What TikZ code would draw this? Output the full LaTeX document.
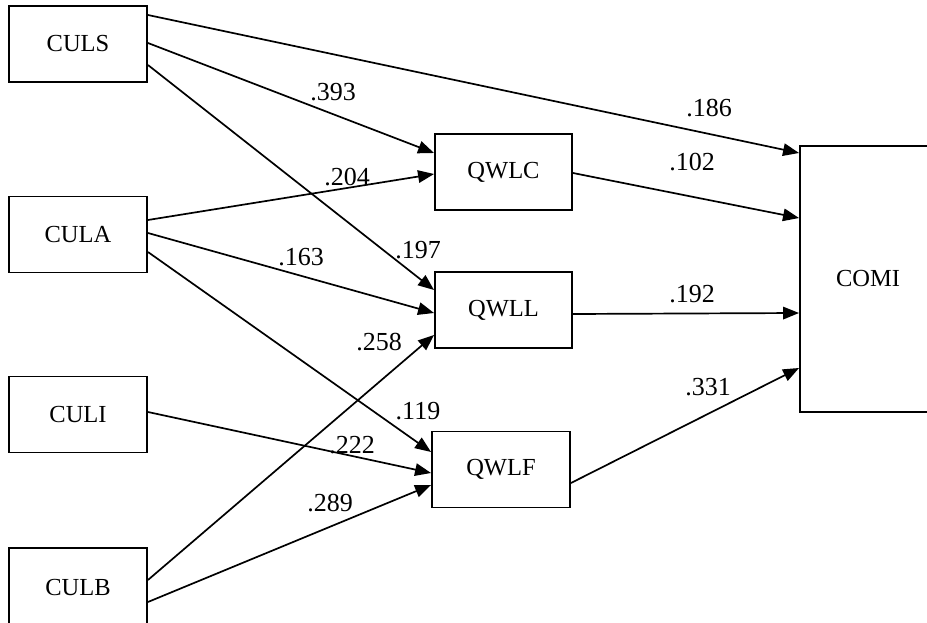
\documentclass[tikz,border=0pt]{standalone}
\usepackage{fontspec}
\setmainfont{Liberation Serif}
\usetikzlibrary{arrows.meta}
\begin{document}
\begin{tikzpicture}[x=1pt,y=-1pt,
  box/.style={draw, line width=1.9pt, minimum width=138pt, minimum height=76pt, inner sep=0pt, font=\fontsize{24.5}{24.5}\selectfont},
  conn/.style={line width=1.7pt, -{Triangle[length=16pt,width=12.5pt]}},
  lab/.style={inner sep=0pt, font=\fontsize{26}{26}\selectfont}]
\useasboundingbox (0,0) rectangle (927,623);
\node[box] (culs) at (78,44) {CULS};
\node[box] (cula) at (78,234.5) {CULA};
\node[box] (culi) at (78,414.5) {CULI};
\node[box, minimum height=80pt] (culb) at (78,588) {CULB};
\node[box, minimum width=137pt] (qwlc) at (503.5,172) {QWLC};
\node[box, minimum width=137pt] (qwll) at (503.5,310) {QWLL};
\node[box] (qwlf) at (501,469.5) {QWLF};
\node[box, minimum width=136pt, minimum height=266pt] (comi) at (868,279) {COMI};
% connectors
\draw[conn] ([yshift=29pt]culs.east) -- ([yshift=126pt]comi.west);
\draw[conn] ([yshift=1pt]culs.east) -- ([yshift=19pt]qwlc.west);
\draw[conn] ([yshift=-21pt]culs.east) -- ([yshift=20pt]qwll.west);
\draw[conn] ([yshift=14.5pt]cula.east) -- ([yshift=-2pt]qwlc.west);
\draw[conn] ([yshift=1.5pt]cula.east) -- ([yshift=-3pt]qwll.west);
\draw[conn] ([yshift=-17.5pt]cula.east) -- ([yshift=17.5pt]qwlf.west);
\draw[conn] ([yshift=2.5pt]culi.east) -- ([yshift=-3.5pt]qwlf.west);
\draw[conn] ([yshift=8pt]culb.east) -- ([yshift=-25pt]qwll.west);
\draw[conn] ([yshift=-14pt]culb.east) -- ([yshift=-15.5pt]qwlf.west);
\draw[conn] ([yshift=-1pt]qwlc.east) -- ([yshift=61pt]comi.west);
\draw[conn] ([yshift=-4pt]qwll.east) -- ([yshift=-34pt]comi.west);
\draw[conn] ([yshift=-13.5pt]qwlf.east) -- ([yshift=-89pt]comi.west);
% labels
\node[lab] (l393) at (333,92) {.393};
\node[lab] (l186) at (709,108) {.186};
\node[lab] (l204) at (347,177) {.204};
\node[lab] (l102) at (692,162) {.102};
\node[lab] (l197) at (418,250) {.197};
\node[lab] (l163) at (301,257) {.163};
\node[lab] (l192) at (692,294) {.192};
\node[lab] (l258) at (379,342) {.258};
\node[lab] (l119) at (418,411) {.119};
\node[lab] (l331) at (708,387) {.331};
\node[lab] (l222) at (352,445) {.222};
\node[lab] (l289) at (330,503) {.289};
\end{tikzpicture}
\end{document}
